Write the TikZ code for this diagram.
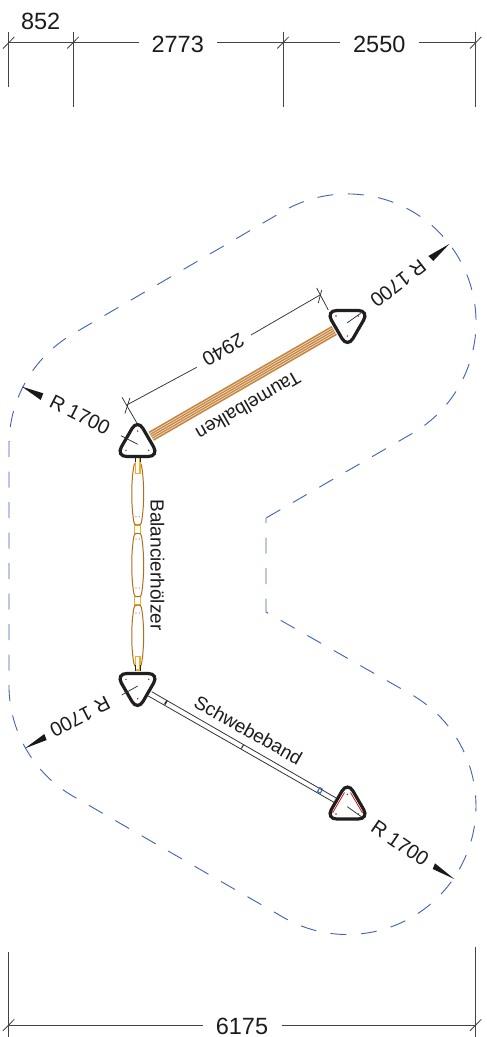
\documentclass[tikz,border=0pt]{standalone}
\usepackage{fontspec}
\setmainfont{Liberation Sans}
\usetikzlibrary{calc}
\definecolor{dimc}{HTML}{444444}
\definecolor{txtc}{HTML}{1C1C1C}
\definecolor{outl}{HTML}{3F62B5}
\definecolor{wood}{HTML}{B06E22}
\definecolor{woodf}{HTML}{C5853F}
\definecolor{yel}{HTML}{F2B020}
\tikzset{
  dimline/.style={draw=dimc,line width=0.85pt},
  bigdim/.style={text=txtc,font=\fontsize{23.5}{26}\selectfont,inner sep=0pt},
  lab/.style={text=txtc,font=\fontsize{19}{22}\selectfont,inner sep=0pt},
  rlab/.style={text=txtc,font=\fontsize{20}{22}\selectfont,inner sep=0pt},
  tribox/.style={draw=black!88,line width=3.2pt,rounded corners=11pt,fill=white},
  wedge/.style={fill=black!90,draw=none},
  redd/.style={fill=red!90!black,draw=none},
  thin tick/.style={draw=black!80,line width=0.75pt},
  logp/.style={draw=wood,line width=1pt,fill=white},
  yelb/.style={draw=yel,line width=1.3pt,fill=white},
}
\newcommand{\uptri}[1]{\draw[tribox] ($(#1)+(0,12.5)$) -- ($(#1)+(21.65,12.5)$) -- ($(#1)+(0,-25)$) -- ($(#1)+(-21.65,12.5)$) -- cycle;}
\newcommand{\dntri}[1]{\draw[tribox] ($(#1)+(0,-12.5)$) -- ($(#1)+(21.65,-12.5)$) -- ($(#1)+(0,25)$) -- ($(#1)+(-21.65,-12.5)$) -- cycle;}
\newcommand{\rdot}[2]{\fill[redd] (#1,#2) circle (0.8);}
\newcommand{\logpc}[2]{\draw[logp] (133.7,#1+4) .. controls (134.5,#1) and (135.5,#1) .. (137.7,#1) .. controls (140,#1) and (141,#1) .. (141.7,#1+4) .. controls (144.3,#1+20) and (144.3,#2-20) .. (141.7,#2-4) .. controls (141,#2) and (140,#2) .. (137.7,#2) .. controls (135.5,#2) and (134.5,#2) .. (133.7,#2-4) .. controls (131.1,#2-20) and (131.1,#1+20) .. (133.7,#1+4) -- cycle;}
\begin{document}
\begin{tikzpicture}[x=1pt,y=-1pt]
\useasboundingbox (0,0) rectangle (487,1037);
\fill[white] (0,0) rectangle (487,1037);
% centres
\coordinate (tA) at (137.5,444);
\coordinate (tB) at (137.5,686);
\coordinate (tC) at (347.5,323);
\coordinate (tD) at (347.5,806.5);
% dashed outline
\draw[outl,line width=0.9pt,dash pattern=on 16pt off 14.5pt,dash phase=11pt]
  (266,518) -- (266,612) -- (411.7,694.7)
  arc (-60:120:128.5) -- (73.2,796.3)
  arc (120:180:128.5) -- (9,445)
  arc (180:239.7:128.5) -- (282.7,211.5)
  arc (239.7:419.7:128.5) -- cycle;
% top dimensions
\coordinate (e1) at (8.7,42.7); \coordinate (e2) at (73,42.7); \coordinate (e3) at (283,42.7); \coordinate (e4) at (475.7,42.7);
\draw[dimline] (8.7,31.7) -- (8.7,87.3);
\draw[dimline] (73,31.7) -- (73,107.3);
\draw[dimline] (283,31.7) -- (283,107.3);
\draw[dimline] (475.7,31.7) -- (475.7,107.3);
\node[bigdim] (d852) at (40.7,21) {852};
\node[bigdim] (d2773) at (177.7,44) {2773};
\node[bigdim] (d2550) at (379.3,44) {2550};
\draw[dimline] (e1) -- (e2) -- (139,42.7);
\draw[dimline] (217.3,42.7) -- (e3) -- (340,42.7);
\draw[dimline] (418.7,42.7) -- (e4);
\foreach \c in {e1,e2,e3,e4} \draw[dimline] ($(\c)+(-5.7,5.8)$) -- ($(\c)+(5.7,-5.8)$);
% bottom dimension
\coordinate (b1) at (8.7,1025); \coordinate (b2) at (475.7,1025);
\draw[dimline] (8.7,951.7) -- (8.7,1037);
\draw[dimline] (475.7,946.7) -- (475.7,1037);
\node[bigdim] (d6175) at (242,1026) {6175};
\draw[dimline] (b1) -- (203,1025);
\draw[dimline] (281.7,1025) -- (b2);
\foreach \c in {b1,b2} \draw[dimline] ($(\c)+(-5.7,5.8)$) -- ($(\c)+(5.7,-5.8)$);
% 2940 dimension
\coordinate (f1) at (126.7,405); \coordinate (f2) at (320,295);
\draw[thin tick] (122,397.3) -- (136.7,422.7);
\draw[thin tick] (316.7,288) -- (328.3,310);
\draw[thin tick] (f1) -- (196.7,367.3);
\draw[thin tick] (251,335) -- (f2);
\draw[thin tick] ($(f1)+(-1.8,8.5)$) -- ($(f1)+(3.2,-7)$);
\draw[thin tick] ($(f2)+(-1.7,8)$) -- ($(f2)+(1.7,-5)$);
\node[rlab,rotate=210] (d2940) at (223.3,350) {2940};
% Taumelbalken
\coordinate (bmA) at (151.3,436.2); \coordinate (bmB) at (334.2,330.5);
\draw[woodf,line width=10.4pt] (bmA) -- (bmB);
\foreach \o in {-3.2,-1.1,1.1,3.2}
  \draw[white!70!woodf,line width=0.7pt] ($(bmA)+(0.5*\o,0.866*\o)$) -- ($(bmB)+(0.5*\o,0.866*\o)$);
\node[lab,rotate=210] (nTaum) at (248.3,406) {Taumelbalken};
% Balancierhoelzer
\draw[yelb] (134.3,525) rectangle (140.7,533.3);
\draw[yelb] (134.3,596.7) rectangle (140.7,605);
\logpc{462.7}{525}
\logpc{533.3}{596.7}
\logpc{605}{666.7}
\draw[yelb] (135.3,457) rectangle (140,473.3);
\draw[yelb] (135.3,656.7) rectangle (140,670);
\draw[black!85,line width=1pt] (135.5,457) -- (135.5,462) (140,457) -- (140,462) (135.5,665) -- (135.5,671) (140,665) -- (140,671);
\foreach \y in {516.7,539,588,613} {\fill[wood] (136,\y) circle (0.6); \fill[wood] (139.3,\y) circle (0.6);}
\node[lab,rotate=-90] (nBal) at (157.3,565) {Balancierhölzer};
% Schwebeband
\draw[black!80,line width=0.8pt] (151.7,691.7) -- (336.7,798.3);
\draw[black!80,line width=0.8pt] (148.3,696) -- (334,802.3);
\draw[black!85,line width=1.6pt] (164.7,704.5) -- (167,700.7);
\draw[black!85,line width=1pt] (241.4,748.5) -- (243.6,744.7);
\draw[outl,line width=1pt] (317.5,791.5) -- (319.8,787.5) -- (322.5,789.2) -- (320.2,793.2) -- cycle;
\node[lab,rotate=-29.5] (nSchw) at (248.3,730) {Schwebeband};
% triangles
\uptri{tA} \dntri{tB} \dntri{tC} \uptri{tD}
\draw[red!80!black,line width=0.7pt] (344.5,792.5) -- (332.5,813) (350.5,792.5) -- (362.5,813);
\foreach \p/\q in {137.7/431,126/450.3,148.7/450.3,126/679.3,148.7/679.3,137.7/698.7,336/316,358.3/316,347.3/336,347.3/794.3,336/814,358.3/814} {\rdot{\p}{\q}}
\draw[thin tick] (121,435.7) -- (137.7,444.3);
\draw[thin tick] (121.7,695) -- (137.7,686);
\draw[thin tick] (347.3,322.7) -- (360.7,313.3);
\draw[thin tick] (347.3,806.7) -- (362.3,817.3);
% radius arrows and labels
\fill[wedge] (22,386.7) -- (43.3,393.3) -- (40.7,400) -- cycle;
\fill[wedge] (25,748.3) -- (44.3,734) -- (46.7,740) -- cycle;
\fill[wedge] (449.3,244) -- (428.3,256) -- (433.3,261) -- cycle;
\fill[wedge] (454.3,879) -- (435,863.3) -- (432.7,869) -- cycle;
\node[rlab,rotate=-27] (r1) at (80,415) {R 1700};
\node[rlab,rotate=207] (r2) at (80,716.7) {R 1700};
\node[rlab,rotate=218] (r3) at (398.3,283.3) {R 1700};
\node[rlab,rotate=-34.4] (r4) at (400,843.3) {R 1700};
\end{tikzpicture}
\end{document}
